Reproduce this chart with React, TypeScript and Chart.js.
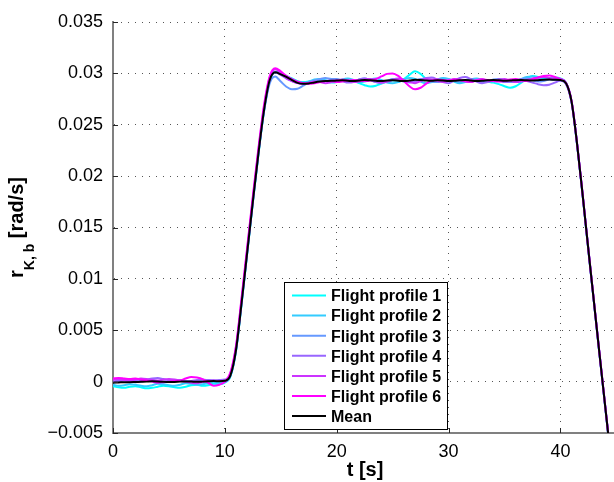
import React, { useEffect, useRef } from 'react';
import { Chart, registerables } from 'chart.js';

Chart.register(...registerables);

// ---------------- data ----------------
const TIME = [
  0, 0.5, 1, 1.5, 2, 2.5, 3, 3.5, 4, 4.5, 5, 5.5, 6, 6.5, 7, 7.5, 8, 8.5, 9, 9.5, 10,
  10.5, 11, 11.5, 12, 12.5, 13, 13.5, 14, 14.5, 15,
  15.5, 16, 16.5, 17, 17.5, 18, 18.5, 19, 19.5, 20,
  20.5, 21, 21.5, 22, 22.5, 23, 23.5, 24, 24.5, 25,
  25.5, 26, 26.5, 27, 27.5, 28, 28.5, 29, 29.5, 30,
  30.5, 31, 31.5, 32, 32.5, 33, 33.5, 34, 34.5, 35,
  35.5, 36, 36.5, 37, 37.5, 38, 38.5, 39, 39.5, 40,
  40.5, 41, 41.5, 42, 42.5, 43, 43.5, 44, 44.5,
];

const PROFILE_1 = [
  -0.00045, -0.00055, -0.0006, -0.0005, -0.00045, -0.00055, -0.00065, -0.0006, -0.0005, -0.0004, -0.00045,
  -0.00055, -0.0006, -0.0005, -0.00035, -0.0003, -0.0004, -0.00035, -0.0002, -0.00025, -0.0001,
  0.0005, 0.003, 0.0076, 0.0125, 0.0174, 0.0221, 0.0263, 0.0292, 0.0301, 0.03,
  0.02975, 0.0295, 0.02925, 0.02915, 0.0292, 0.0293, 0.02935, 0.0293, 0.0292, 0.02925,
  0.02935, 0.02935, 0.02925, 0.02905, 0.02885, 0.02872, 0.0288, 0.029, 0.0292, 0.0293,
  0.0293, 0.02945, 0.02985, 0.0302, 0.02995, 0.02945, 0.02925, 0.02935, 0.02945, 0.0294,
  0.02925, 0.02915, 0.0292, 0.02935, 0.0294, 0.0293, 0.0292, 0.0291, 0.02895, 0.02875,
  0.0286, 0.02875, 0.0291, 0.0295, 0.02975, 0.02965, 0.02945, 0.02955, 0.0296, 0.0295,
  0.0291, 0.02725, 0.023, 0.018, 0.0128, 0.0077, 0.0026, -0.0024, -0.0074,
];

const PROFILE_2 = [
  -0.0003, -0.0004, -0.00035, -0.00025, -0.0003, -0.0004, -0.00045, -0.00035, -0.0002, -0.00025, -0.00035,
  -0.0004, -0.0003, -0.00015, -0.0002, -0.0003, -0.00025, -0.00015, -0.00005, -0.0001, 0.0,
  0.00055, 0.00305, 0.00765, 0.01255, 0.01745, 0.02215, 0.02635, 0.02925, 0.03015, 0.02995,
  0.0296, 0.02935, 0.0292, 0.0291, 0.0292, 0.0294, 0.02945, 0.0293, 0.0291, 0.02915,
  0.0294, 0.0295, 0.02935, 0.02915, 0.0292, 0.0294, 0.0295, 0.02935, 0.0291, 0.02905,
  0.02915, 0.0294, 0.02955, 0.02945, 0.0292, 0.02905, 0.02915, 0.0294, 0.02955, 0.02945,
  0.0292, 0.02905, 0.02915, 0.0294, 0.0295, 0.02935, 0.02915, 0.0292, 0.0294, 0.02935,
  0.02915, 0.0292, 0.02945, 0.02965, 0.0297, 0.0295, 0.02935, 0.02945, 0.0295, 0.0294,
  0.02905, 0.02722, 0.02302, 0.01802, 0.01282, 0.00772, 0.00262, -0.00238, -0.00738,
];

const PROFILE_3 = [
  -0.0001, 0.0, 0.0001, 0.00005, -0.00005, 0.0, 0.0001, 0.00015, 0.00005, -0.00005, 0.0,
  0.0001, 0.00015, 0.00005, 0.0, 0.00005, 0.0001, 0.00015, 0.0001, 0.00005, 0.0001,
  0.0006, 0.0031, 0.0077, 0.0126, 0.0175, 0.0222, 0.0263, 0.029, 0.0297, 0.0292,
  0.0287, 0.02845, 0.0285, 0.0288, 0.0291, 0.0293, 0.02945, 0.02955, 0.02945, 0.02945,
  0.0293, 0.02915, 0.0292, 0.0294, 0.0295, 0.02935, 0.02915, 0.0291, 0.02925, 0.02945,
  0.0294, 0.0292, 0.0291, 0.02925, 0.02945, 0.0294, 0.0292, 0.02915, 0.0293, 0.0294,
  0.0293, 0.0292, 0.02935, 0.02945, 0.0293, 0.02915, 0.0292, 0.0294, 0.02945, 0.0293,
  0.0292, 0.02925, 0.02945, 0.0295, 0.02935, 0.0292, 0.02925, 0.0294, 0.02935, 0.0293,
  0.029, 0.02718, 0.02298, 0.01798, 0.01278, 0.00768, 0.00258, -0.00242, -0.00742,
];

const PROFILE_4 = [
  0.0, 0.0001, 0.00015, 0.0002, 0.00015, 0.0001, 0.0002, 0.0003, 0.00035, 0.00025, 0.00015,
  0.0001, 0.00005, 0.0, 0.00005, 0.00015, 0.0002, 0.00015, 0.0001, 0.00015, 0.0002,
  0.0007, 0.0032, 0.0078, 0.0127, 0.0176, 0.0223, 0.0265, 0.02935, 0.0301, 0.02985,
  0.0295, 0.02925, 0.02905, 0.029, 0.02905, 0.02915, 0.0292, 0.02925, 0.0293, 0.02935,
  0.02925, 0.0291, 0.02915, 0.0294, 0.0295, 0.02935, 0.02915, 0.02905, 0.0292, 0.0294,
  0.0295, 0.02935, 0.02915, 0.0292, 0.0294, 0.02955, 0.0296, 0.0294, 0.02915, 0.02905,
  0.0293, 0.02955, 0.02965, 0.02945, 0.0292, 0.02905, 0.02915, 0.02935, 0.0293, 0.02915,
  0.0292, 0.02935, 0.0294, 0.02925, 0.0291, 0.02895, 0.02885, 0.0289, 0.0291, 0.0293,
  0.02895, 0.02715, 0.02297, 0.01797, 0.01277, 0.00767, 0.00257, -0.00243, -0.00743,
];

const PROFILE_5 = [
  0.0002, 0.00025, 0.00015, 0.0001, 0.0002, 0.0003, 0.00025, 0.00015, 0.0001, 0.0002, 0.00025,
  0.0002, 0.0001, 0.0, -0.0001, -0.00015, -0.00005, 0.00005, 0.0001, 0.00005, 0.0,
  0.0008, 0.0034, 0.008, 0.0129, 0.0178, 0.0225, 0.0267, 0.02955, 0.0304, 0.03005,
  0.02955, 0.02925, 0.02905, 0.029, 0.0291, 0.0292, 0.02915, 0.02905, 0.02915, 0.0293,
  0.0294, 0.0293, 0.02915, 0.0292, 0.0294, 0.02945, 0.0293, 0.02915, 0.0292, 0.02935,
  0.02945, 0.02935, 0.02915, 0.02905, 0.02925, 0.02945, 0.0294, 0.02925, 0.02915, 0.0293,
  0.02945, 0.0294, 0.0292, 0.02915, 0.02935, 0.02945, 0.0293, 0.02925, 0.0294, 0.02945,
  0.0293, 0.02915, 0.0292, 0.02935, 0.0295, 0.0296, 0.02965, 0.02955, 0.02945, 0.02935,
  0.02905, 0.02725, 0.02305, 0.01805, 0.01285, 0.00775, 0.00265, -0.00235, -0.00735,
];

const PROFILE_6 = [
  0.0003, 0.00035, 0.0003, 0.00025, 0.0003, 0.0002, 0.0001, 0.0, -0.0001, -0.00005, 0.0,
  0.00005, 0.0001, 0.0003, 0.00045, 0.0004, 0.00025, -0.0001, -0.0004, -0.0003, 0.0,
  0.0009, 0.0035, 0.0082, 0.0131, 0.018, 0.0227, 0.0269, 0.0297, 0.0305, 0.0302,
  0.02975, 0.02945, 0.0292, 0.02905, 0.029, 0.02905, 0.02915, 0.02925, 0.02925, 0.02915,
  0.0292, 0.0293, 0.02935, 0.0293, 0.02925, 0.0293, 0.02945, 0.0297, 0.02995, 0.03,
  0.02975, 0.02925, 0.02875, 0.02845, 0.0286, 0.029, 0.0293, 0.0294, 0.02935, 0.0293,
  0.0294, 0.02935, 0.02925, 0.0292, 0.0293, 0.0294, 0.02935, 0.02925, 0.0292, 0.0293,
  0.0294, 0.02945, 0.02935, 0.02925, 0.0294, 0.0296, 0.02975, 0.0298, 0.02965, 0.02945,
  0.0291, 0.0273, 0.0231, 0.0181, 0.0129, 0.0078, 0.0027, -0.0023, -0.0073,
];

const MEAN = [
  -0.0001, -0.00008, -0.00005, -0.00006, -0.00004, -0.00002, 0.0, 0.00003, 0.00002, -0.00002, -0.00004,
  -0.00003, 0.0, 0.00002, 0.00001, -0.00002, 0.0, 0.00003, 0.00005, 0.00004, 0.00008,
  0.0006, 0.0031, 0.0077, 0.0126, 0.0175, 0.0222, 0.0264, 0.0293, 0.0301, 0.0299,
  0.02965, 0.02935, 0.02908, 0.02898, 0.02902, 0.02912, 0.0292, 0.02925, 0.02928, 0.0293,
  0.02932, 0.02928, 0.02925, 0.0293, 0.02935, 0.02932, 0.02928, 0.02925, 0.0293, 0.02932,
  0.02928, 0.02925, 0.0293, 0.02938, 0.02935, 0.0293, 0.02928, 0.02932, 0.0293, 0.02926,
  0.02928, 0.02932, 0.02935, 0.0293, 0.02926, 0.02928, 0.02932, 0.02935, 0.02932, 0.02928,
  0.0293, 0.02934, 0.02936, 0.02932, 0.0293, 0.02934, 0.02938, 0.0294, 0.02938, 0.02935,
  0.02904, 0.02723, 0.02302, 0.01802, 0.01282, 0.00772, 0.00262, -0.00238, -0.00738,
];

const SERIES_NAMES = [
  'Flight profile 1',
  'Flight profile 2',
  'Flight profile 3',
  'Flight profile 4',
  'Flight profile 5',
  'Flight profile 6',
  'Mean',
];
const SERIES_VALUES = [PROFILE_1, PROFILE_2, PROFILE_3, PROFILE_4, PROFILE_5, PROFILE_6, MEAN];
const SERIES_COLORS = ['#00ffff', '#33ccff', '#6699ff', '#9966ff', '#cc33ff', '#ff00ff', '#000000'];

const X_MIN = 0;
const X_MAX = 44.7;
const X_TICKS = [0, 10, 20, 30, 40];
const X_TICK_LABELS = ['0', '10', '20', '30', '40'];
const Y_MIN = -0.005;
const Y_MAX = 0.035;
const Y_TICKS = [-0.005, 0, 0.005, 0.01, 0.015, 0.02, 0.025, 0.03, 0.035];
const Y_TICK_LABELS = ['\u22120.005', '0', '0.005', '0.01', '0.015', '0.02', '0.025', '0.03', '0.035'];

const X_TITLE = 't [s]';
const Y_TITLE_MAIN = 'r';
const Y_TITLE_SUB = 'K, b';
const Y_TITLE_REST = ' [rad/s]';

const FONT = '"Liberation Sans", Arial, Helvetica, sans-serif';

function labelFor(values: number[], labels: string[], v: number) {
  const i = values.findIndex((t) => Math.abs(t - v) < 1e-9);
  return i >= 0 ? labels[i] : '';
}

const overlayPlugin = {
  id: 'overlay',
  afterDraw(chart: any) {
    const { ctx, chartArea: a, scales } = chart;
    const xs = scales.x;
    const ys = scales.y;
    ctx.save();

    // inward tick marks
    ctx.strokeStyle = '#262626';
    ctx.lineWidth = 1;
    ctx.setLineDash([]);
    ctx.beginPath();
    Y_TICKS.forEach((v) => {
      const y = Math.round(ys.getPixelForValue(v)) + 0.5;
      ctx.moveTo(a.left, y);
      ctx.lineTo(a.left + 5, y);
    });
    X_TICKS.forEach((v) => {
      const x = Math.round(xs.getPixelForValue(v)) + 0.5;
      ctx.moveTo(x, a.bottom);
      ctx.lineTo(x, a.bottom - 5);
    });
    ctx.stroke();

    // x title
    ctx.fillStyle = '#000';
    ctx.font = `bold 20px ${FONT}`;
    ctx.textAlign = 'center';
    ctx.textBaseline = 'alphabetic';
    ctx.fillText(X_TITLE, (a.left + a.right) / 2 + 2, a.bottom + 43);

    // y title (rotated, with subscript)
    const mainFont = `bold 20px ${FONT}`;
    const subFont = `bold 14px ${FONT}`;
    ctx.font = mainFont;
    const w1 = ctx.measureText(Y_TITLE_MAIN).width;
    const w3 = ctx.measureText(Y_TITLE_REST).width;
    ctx.font = subFont;
    const w2 = ctx.measureText(Y_TITLE_SUB).width;
    const total = w1 + w2 + w3;
    ctx.translate(23, (a.top + a.bottom) / 2);
    ctx.rotate(-Math.PI / 2);
    ctx.textAlign = 'left';
    let x0 = -total / 2;
    ctx.font = mainFont;
    ctx.fillText(Y_TITLE_MAIN, x0, 0);
    x0 += w1;
    ctx.font = subFont;
    ctx.fillText(Y_TITLE_SUB, x0, 11);
    x0 += w2;
    ctx.font = mainFont;
    ctx.fillText(Y_TITLE_REST, x0, 0);
    ctx.setTransform(1, 0, 0, 1, 0, 0);
    ctx.restore();

    // legend
    ctx.save();
    const lx = a.left + 171;
    const ly = a.top + 260;
    const lw = 163;
    const lh = 147;
    ctx.fillStyle = '#fff';
    ctx.fillRect(lx, ly, lw, lh);
    ctx.strokeStyle = '#000';
    ctx.lineWidth = 1;
    ctx.strokeRect(lx + 0.5, ly + 0.5, lw, lh);
    ctx.font = `bold 16px ${FONT}`;
    ctx.textAlign = 'left';
    ctx.textBaseline = 'alphabetic';
    SERIES_NAMES.forEach((name, i) => {
      const cy = ly + 13.5 + i * 20.1;
      ctx.strokeStyle = SERIES_COLORS[i];
      ctx.lineWidth = 2;
      ctx.beginPath();
      ctx.moveTo(lx + 8, cy);
      ctx.lineTo(lx + 42, cy);
      ctx.stroke();
      ctx.fillStyle = '#000';
      ctx.fillText(name, lx + 47, cy + 5.8);
    });
    ctx.restore();
  },
};

export default function App() {
  const canvasRef = useRef<HTMLCanvasElement | null>(null);

  useEffect(() => {
    document.body.style.margin = '0';
    const canvas = canvasRef.current;
    if (!canvas) return;

    const datasets = SERIES_VALUES.map((vals, i) => ({
      label: SERIES_NAMES[i],
      data: TIME.map((t, j) => ({ x: t, y: vals[j] })),
      borderColor: SERIES_COLORS[i],
      backgroundColor: SERIES_COLORS[i],
      borderWidth: 2,
      pointRadius: 0,
      fill: false,
      cubicInterpolationMode: 'monotone' as const,
      order: SERIES_VALUES.length - 1 - i,
    }));

    const chart = new Chart(canvas, {
      type: 'line',
      data: { datasets },
      options: {
        responsive: false,
        animation: false,
        events: [],
        layout: { padding: { top: 22, right: 1, left: 0, bottom: 0 } },
        plugins: {
          legend: { display: false },
          tooltip: { enabled: false },
          title: { display: false },
        },
        scales: {
          x: {
            type: 'linear',
            min: X_MIN,
            max: X_MAX,
            afterBuildTicks: (s: any) => {
              s.ticks = X_TICKS.map((v) => ({ value: v }));
            },
            afterFit: (s: any) => {
              s.height = 49;
            },
            ticks: {
              color: '#000',
              font: { family: FONT, size: 18 },
              padding: 8,
              maxRotation: 0,
              autoSkip: false,
              callback: (v: any) => labelFor(X_TICKS, X_TICK_LABELS, Number(v)),
            },
            grid: { color: '#555', lineWidth: 1, drawTicks: false },
            border: { display: true, color: '#808080', width: 2, dash: [1, 6] },
          },
          y: {
            type: 'linear',
            min: Y_MIN,
            max: Y_MAX,
            afterBuildTicks: (s: any) => {
              s.ticks = Y_TICKS.map((v) => ({ value: v }));
            },
            afterFit: (s: any) => {
              s.width = 113;
            },
            ticks: {
              color: '#000',
              font: { family: FONT, size: 18 },
              padding: 10,
              autoSkip: false,
              callback: (v: any) => labelFor(Y_TICKS, Y_TICK_LABELS, Number(v)),
            },
            grid: { color: '#555', lineWidth: 1, drawTicks: false },
            border: { display: true, color: '#808080', width: 2, dash: [1, 6] },
          },
        },
      },
      plugins: [overlayPlugin],
    });

    return () => chart.destroy();
  }, []);

  return (
    <div style={{ width: 614, height: 482, position: 'relative', background: '#fff' }}>
      <canvas ref={canvasRef} width={614} height={482} style={{ display: 'block' }} />
    </div>
  );
}
